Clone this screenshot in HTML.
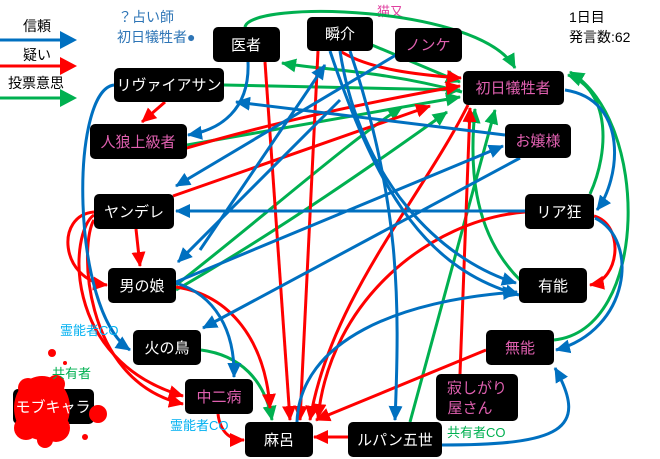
<!DOCTYPE html>
<html><head><meta charset="utf-8"><style>
body{margin:0;background:#fff;}
svg{display:block;font-family:"Liberation Sans","Noto Sans CJK JP",sans-serif;}
</style></head><body>
<svg width="660" height="459" viewBox="0 0 660 459" xmlns="http://www.w3.org/2000/svg">
<defs>
<marker id="ab" markerUnits="userSpaceOnUse" markerWidth="16" markerHeight="16" refX="14" refY="8" orient="auto"><path d="M0,1 L15,8 L0,15 Z" fill="#0070c0"/></marker>
<marker id="ar" markerUnits="userSpaceOnUse" markerWidth="16" markerHeight="16" refX="14" refY="8" orient="auto"><path d="M0,1 L15,8 L0,15 Z" fill="#ff0000"/></marker>
<marker id="ag" markerUnits="userSpaceOnUse" markerWidth="16" markerHeight="16" refX="14" refY="8" orient="auto"><path d="M0,1 L15,8 L0,15 Z" fill="#00b050"/></marker>
</defs>
<!-- legend -->
<g font-size="14" fill="#000"><text x="23" y="31">信頼</text><text x="23" y="60">疑い</text><text x="8" y="88">投票意思</text></g>
<line x1="0" y1="40" x2="62" y2="40" stroke="#0070c0" stroke-width="3"/><path d="M60,31 L77,40 L60,49 Z" fill="#0070c0"/>
<line x1="0" y1="66" x2="62" y2="66" stroke="#ff0000" stroke-width="3"/><path d="M60,57 L77,66 L60,75 Z" fill="#ff0000"/>
<line x1="0" y1="98" x2="62" y2="98" stroke="#00b050" stroke-width="3"/><path d="M60,89 L77,98 L60,107 Z" fill="#00b050"/>
<g font-size="14" fill="#2e75b6"><text x="118" y="22">？占い師</text><text x="117" y="42">初日犠牲者●</text></g>
<text x="377" y="16" font-size="13" fill="#e040a0">猫又</text>
<g font-size="14" fill="#000"><text x="569" y="22">1日目</text><text x="569" y="42">発言数:62</text></g>

<g fill="none" stroke-width="3">
<g stroke="#00b050">
<path d="M245,27 C250,0 480,5 515,68" marker-end="url(#ag)"/>
<path d="M462,92 C380,70 320,70 282,63" marker-end="url(#ag)"/>
<path d="M224,85 L460,90" marker-end="url(#ag)"/>
<path d="M187,145 L460,97" marker-end="url(#ag)"/>
<path d="M372,45 L460,82" marker-end="url(#ag)"/>
<path d="M176,285 C260,220 350,140 402,107" marker-end="url(#ag)"/>
<path d="M176,290 C280,230 380,160 447,112" marker-end="url(#ag)"/>
<path d="M520,280 C470,230 470,160 475,109" marker-end="url(#ag)"/>
<path d="M410,422 L495,110" marker-end="url(#ag)"/>
<path d="M554,340 C650,330 650,120 570,72" marker-end="url(#ag)"/>
<path d="M590,194 C610,150 610,90 568,75" marker-end="url(#ag)"/>
<path d="M201,350 C240,355 265,380 272,420" marker-end="url(#ag)"/>
</g>
<g stroke="#ff0000">
<path d="M165,102 L142,122" marker-end="url(#ar)"/>
<path d="M173,196 L430,106" marker-end="url(#ar)"/>
<path d="M340,51 C370,70 420,75 461,78" marker-end="url(#ar)"/>
<path d="M180,150 C280,120 380,100 460,86" marker-end="url(#ar)"/>
<path d="M265,62 L290,420" marker-end="url(#ar)"/>
<path d="M318,51 L300,420" marker-end="url(#ar)"/>
<path d="M136,229 L140,266" marker-end="url(#ar)"/>
<path d="M94,212 C55,215 60,280 107,285" marker-end="url(#ar)"/>
<path d="M94,215 C70,230 60,360 183,396" marker-end="url(#ar)"/>
<path d="M94,220 C80,240 80,380 183,404" marker-end="url(#ar)"/>
<path d="M176,287 C230,295 265,340 270,408" marker-end="url(#ar)"/>
<path d="M218,414 C220,430 228,440 244,440" marker-end="url(#ar)"/>
<path d="M348,437 L314,437" marker-end="url(#ar)"/>
<path d="M486,350 L316,420" marker-end="url(#ar)"/>
<path d="M460,374 L470,108" marker-end="url(#ar)"/>
<path d="M468,105 C420,200 330,300 310,420" marker-end="url(#ar)"/>
<path d="M525,212 C430,220 330,300 318,418" marker-end="url(#ar)"/>
<path d="M594,216 C625,225 620,280 590,285" marker-end="url(#ar)"/>
</g>
<g stroke="#0070c0">
<path d="M248,62 C250,110 220,130 188,135" marker-end="url(#ab)"/>
<path d="M114,85 C70,90 70,310 130,350" marker-end="url(#ab)"/>
<path d="M505,135 L236,102" marker-end="url(#ab)"/>
<path d="M396,55 L176,186" marker-end="url(#ab)"/>
<path d="M525,211 L176,211" marker-end="url(#ab)"/>
<path d="M340,100 L178,262" marker-end="url(#ab)"/>
<path d="M176,282 L503,146" marker-end="url(#ab)"/>
<path d="M520,158 L203,328" marker-end="url(#ab)"/>
<path d="M176,283 C215,295 235,330 234,377" marker-end="url(#ab)"/>
<path d="M565,90 C630,100 620,180 597,210" marker-end="url(#ab)"/>
<path d="M340,51 C360,180 440,260 516,283" marker-end="url(#ab)"/>
<path d="M330,51 C380,200 430,270 519,295" marker-end="url(#ab)"/>
<path d="M297,422 C300,340 400,300 517,292" marker-end="url(#ab)"/>
<path d="M442,445 C560,445 590,430 555,368" marker-end="url(#ab)"/>
<path d="M595,218 C640,240 630,330 556,350" marker-end="url(#ab)"/>
<path d="M350,51 C400,200 400,300 395,420" marker-end="url(#ab)"/>
<path d="M200,250 L325,65" marker-end="url(#ab)"/>
</g>
</g>

<g fill="#000">
<rect x="213" y="27" width="67" height="35" rx="5"/>
<rect x="307" y="17" width="66" height="34" rx="5"/>
<rect x="395" y="28" width="67" height="34" rx="5"/>
<rect x="463" y="71" width="101" height="34" rx="5"/>
<rect x="114" y="68" width="110" height="34" rx="5"/>
<rect x="90" y="124" width="97" height="35" rx="5"/>
<rect x="505" y="124" width="66" height="34" rx="5"/>
<rect x="94" y="194" width="80" height="35" rx="5"/>
<rect x="525" y="194" width="69" height="35" rx="5"/>
<rect x="108" y="268" width="68" height="35" rx="5"/>
<rect x="519" y="268" width="68" height="35" rx="5"/>
<rect x="133" y="330" width="68" height="35" rx="5"/>
<rect x="486" y="330" width="68" height="35" rx="5"/>
<rect x="185" y="379" width="68" height="35" rx="5"/>
<rect x="436" y="374" width="82" height="47" rx="5"/>
<rect x="245" y="422" width="68" height="35" rx="5"/>
<rect x="348" y="422" width="94" height="35" rx="5"/>
<rect x="13" y="389" width="81" height="35" rx="5"/>
</g>
<g fill="#ff0000">
<ellipse cx="42" cy="408" rx="28" ry="32"/><circle cx="28" cy="388" r="10"/><circle cx="56" cy="428" r="14"/>
<circle cx="26" cy="428" r="12"/><circle cx="98" cy="414" r="9"/><circle cx="56" cy="384" r="9"/>
<circle cx="52" cy="353" r="4"/><circle cx="85" cy="437" r="3"/><circle cx="65" cy="363" r="2"/><circle cx="45" cy="440" r="8"/>
</g>
<g font-size="15" text-anchor="middle" fill="#fff">
<text x="246" y="50">医者</text>
<text x="340" y="39">瞬介</text>
<text x="428" y="50" fill="#e060b0">ノンケ</text>
<text x="513" y="93" fill="#e060b0">初日犠牲者</text>
<text x="169" y="90">リヴァイアサン</text>
<text x="138" y="147" fill="#e060b0">人狼上級者</text>
<text x="538" y="146" fill="#e060b0">お嬢様</text>
<text x="134" y="217">ヤンデレ</text>
<text x="559" y="217">リア狂</text>
<text x="142" y="291">男の娘</text>
<text x="553" y="291">有能</text>
<text x="167" y="353">火の鳥</text>
<text x="520" y="353" fill="#e060b0">無能</text>
<text x="219" y="402" fill="#e060b0">中二病</text>
<text x="477" y="393" fill="#e060b0">寂しがり</text>
<text x="470" y="413" fill="#e060b0">屋さん</text>
<text x="279" y="445">麻呂</text>
<text x="395" y="445">ルパン五世</text>
<text x="53" y="412">モブキャラ</text>
</g>
<g font-size="13">
<text x="60" y="335" fill="#00b0f0">霊能者CO</text>
<text x="52" y="378" fill="#00b050">共有者</text>
<text x="170" y="430" fill="#00b0f0">霊能者CO</text>
<text x="447" y="437" fill="#00b050">共有者CO</text>
</g>
</svg>
</body></html>
